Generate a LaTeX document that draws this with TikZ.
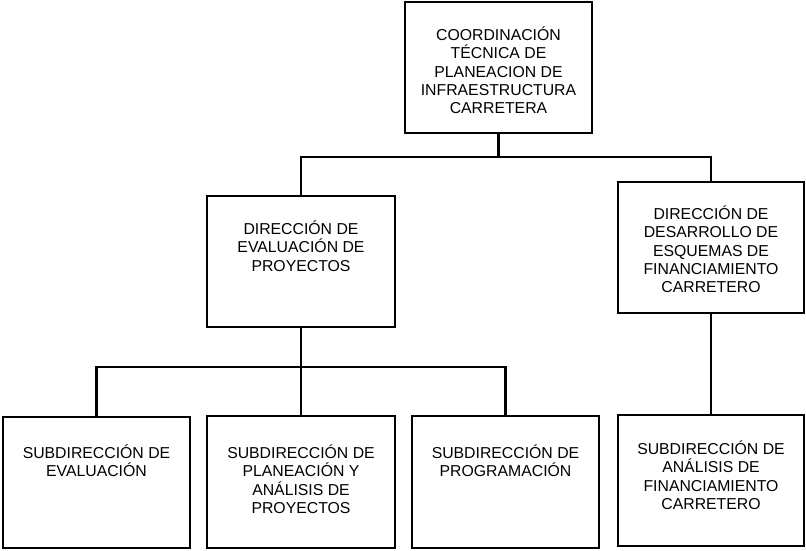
\documentclass[tikz,border=0pt]{standalone}
\usepackage{fontspec}
\setmainfont{Liberation Sans}
\usetikzlibrary{positioning}
\newcommand{\lnstart}{\rule{0pt}{15pt}}
\begin{document}
\begin{tikzpicture}[x=1pt,y=-1pt,
  box/.style={draw=black, line width=2.2pt, inner sep=0pt, outer sep=0pt},
  txt/.style={font=\fontsize{15.8pt}{18.4pt}\selectfont, align=center, inner sep=0pt, anchor=north},
  link/.style={draw=black, line width=2.2pt}]
\useasboundingbox (0,0) rectangle (806,550);

% boxes
\node[box, minimum width=187pt, minimum height=131pt] (top) at (498.5,67.5) {};
\node[box, minimum width=188pt, minimum height=131pt] (dirL) at (301,261.5) {};
\node[box, minimum width=186pt, minimum height=131pt] (dirR) at (711,247.5) {};
\node[box, minimum width=187pt, minimum height=131pt] (s1) at (96.5,482.5) {};
\node[box, minimum width=188pt, minimum height=132pt] (s2) at (301,482) {};
\node[box, minimum width=187pt, minimum height=132pt] (s3) at (505.5,482) {};
\node[box, minimum width=186pt, minimum height=131pt] (s4) at (711,480.5) {};

% texts
\node[txt, below=23pt of top.north] (topT) {\lnstart COORDINACIÓN\\TÉCNICA DE\\PLANEACION DE\\INFRAESTRUCTURA\\CARRETERA};
\node[txt, below=23pt of dirL.north] (dirLT) {\lnstart DIRECCIÓN DE\\EVALUACIÓN DE\\PROYECTOS};
\node[txt, below=22pt of dirR.north] (dirRT) {\lnstart DIRECCIÓN DE\\DESARROLLO DE\\ESQUEMAS DE\\FINANCIAMIENTO\\CARRETERO};
\node[txt, below=26pt of s1.north] (s1T) {\lnstart SUBDIRECCIÓN DE\\EVALUACIÓN};
\node[txt, below=27pt of s2.north] (s2T) {\lnstart SUBDIRECCIÓN DE\\PLANEACIÓN Y\\ANÁLISIS DE\\PROYECTOS};
\node[txt, below=27pt of s3.north] (s3T) {\lnstart SUBDIRECCIÓN DE\\PROGRAMACIÓN};
\node[txt, below=24pt of s4.north] (s4T) {\lnstart SUBDIRECCIÓN DE\\ANÁLISIS DE\\FINANCIAMIENTO\\CARRETERO};

% connectors
\draw[link] (top.south) -- ++(0,24) coordinate (b1);
\draw[link] (dirL.north) |- (b1) -| (dirR.north);
\draw[link] (dirL.south) -- ++(0,40) coordinate (b2);
\draw[link] (s1.north) |- (b2) -| (s3.north);
\draw[link] (b2) -- (s2.north);
\draw[link] (dirR.south) -- (s4.north);
\end{tikzpicture}
\end{document}
